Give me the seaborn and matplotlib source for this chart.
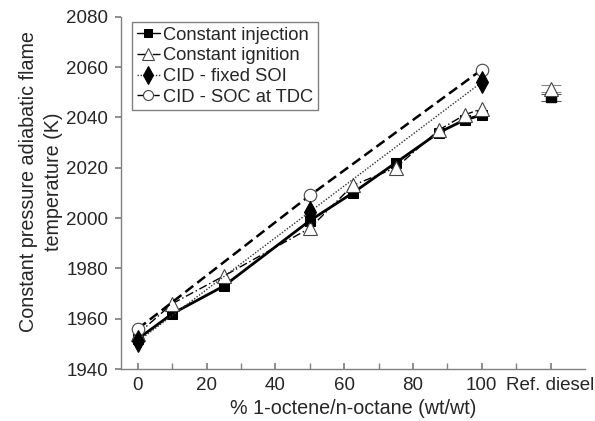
import matplotlib
matplotlib.use("Agg")
import matplotlib.pyplot as plt
import seaborn as sns
import pandas as pd

# Adiabatic flame temperature vs. 1-octene content
inj_x = [0, 10, 25, 50, 62.5, 75, 87.5, 95, 100]
inj_T = [1952, 1962, 1973, 1999, 2010, 2022, 2034, 2039, 2041]
ign_x = [0, 10, 25, 50, 62.5, 75, 87.5, 95, 100]
ign_T = [1954, 1966, 1977, 1996, 2013, 2020, 2035, 2041, 2043.5]
soi_x = [0, 50, 100]
soi_T = [1951, 2002.5, 2054]
soc_x = [0, 50, 100]
soc_T = [1956, 2009, 2059]

# Reference diesel, plotted at the extra category position
ref_x = 120
ref_inj_T = 2048
ref_ign_T = 2051.5
ref_err = 1.5

xtick_pos = [0, 20, 40, 60, 80, 100, 120]
xtick_labels = ["0", "20", "40", "60", "80", "100", "Ref. diesel"]
ytick_vals = [1940, 1960, 1980, 2000, 2020, 2040, 2060, 2080]

sns.set_theme(style="white")
plt.rcParams["font.family"] = ["Liberation Sans", "DejaVu Sans"]

fig = plt.figure(figsize=(5.95, 4.21), dpi=100)
ax = fig.add_axes([0.203, 0.1235, 0.78, 0.8365])

df_inj = pd.DataFrame({"x": inj_x, "T": inj_T})
df_ign = pd.DataFrame({"x": ign_x, "T": ign_T})
df_soi = pd.DataFrame({"x": soi_x, "T": soi_T})
df_soc = pd.DataFrame({"x": soc_x, "T": soc_T})

sns.lineplot(data=df_inj, x="x", y="T", ax=ax, color="black", lw=2,
             marker="s", markersize=7, markerfacecolor="black",
             markeredgecolor="black", label="Constant injection", zorder=3)
sns.lineplot(data=df_ign, x="x", y="T", ax=ax, color="black", lw=1,
             linestyle=(0, (6, 2, 1, 2)),
             marker="^", markersize=10, markerfacecolor="white",
             markeredgecolor="#444444", markeredgewidth=0.8,
             label="Constant ignition", zorder=4)
sns.lineplot(data=df_soc, x="x", y="T", ax=ax, color="black", lw=1.8,
             linestyle=(0, (4, 2)),
             marker="o", markersize=9, markerfacecolor="white",
             markeredgecolor="#444444", markeredgewidth=0.8,
             label="CID - SOC at TDC", zorder=5)
sns.lineplot(data=df_soi, x="x", y="T", ax=ax, color="#333333", lw=1,
             linestyle=(0, (1, 1.2)),
             marker="d", markersize=11, markerfacecolor="black",
             markeredgecolor="black",
             label="CID - fixed SOI", zorder=6)

# Reference diesel points with error bars
ax.errorbar([ref_x], [ref_inj_T], yerr=[ref_err], fmt="s", ms=7,
            mfc="black", mec="black", ecolor="#555555", elinewidth=0.8,
            capsize=7, capthick=0.8, zorder=3)
ax.errorbar([ref_x], [ref_ign_T], yerr=[ref_err], fmt="^", ms=10,
            mfc="white", mec="#444444", mew=0.8, ecolor="#888888",
            elinewidth=0.8, capsize=7, capthick=0.8, zorder=4)

ax.set_xlim(-5, 130)
ax.set_ylim(1940, 2080)
ax.set_xticks(xtick_pos)
ax.set_xticklabels(xtick_labels)
ax.set_xticks([10, 30, 50, 70, 90, 110], minor=True)
ax.set_yticks(ytick_vals)

for s in ["top", "right"]:
    ax.spines[s].set_visible(False)
for s in ["left", "bottom"]:
    ax.spines[s].set_color("#808080")
    ax.spines[s].set_linewidth(1)

ax.tick_params(axis="x", which="both", direction="in", length=4,
               color="#808080", labelsize=13.5, pad=6, bottom=True)
ax.tick_params(axis="y", which="major", direction="out", length=4,
               color="#808080", labelsize=13.5, left=True, pad=5)

ax.set_xlabel("% 1-octene/n-octane (wt/wt)", fontsize=14.2, labelpad=3)
ax.set_ylabel("Constant pressure adiabatic flame\ntemperature (K)",
              fontsize=14.2, linespacing=1.4, va="center")
ax.yaxis.set_label_coords(-0.172, 0.531)

# Legend entries in the drawn order of the key
handles, labels = ax.get_legend_handles_labels()
order = ["Constant injection", "Constant ignition", "CID - fixed SOI",
         "CID - SOC at TDC"]
hmap = dict(zip(labels, handles))
leg = ax.legend([hmap[k] for k in order], order, loc="upper left",
                bbox_to_anchor=(0.024, 0.985), fontsize=13.2,
                frameon=True, fancybox=False, framealpha=1,
                edgecolor="#808080", handlelength=1.3, handletextpad=0.15,
                labelspacing=0.2, borderpad=0.25, borderaxespad=0.0,
                markerscale=0.8)
leg.get_frame().set_linewidth(1)
for line in leg.get_lines():
    line.set_linewidth(1)

fig.savefig("out.png", dpi=100)
